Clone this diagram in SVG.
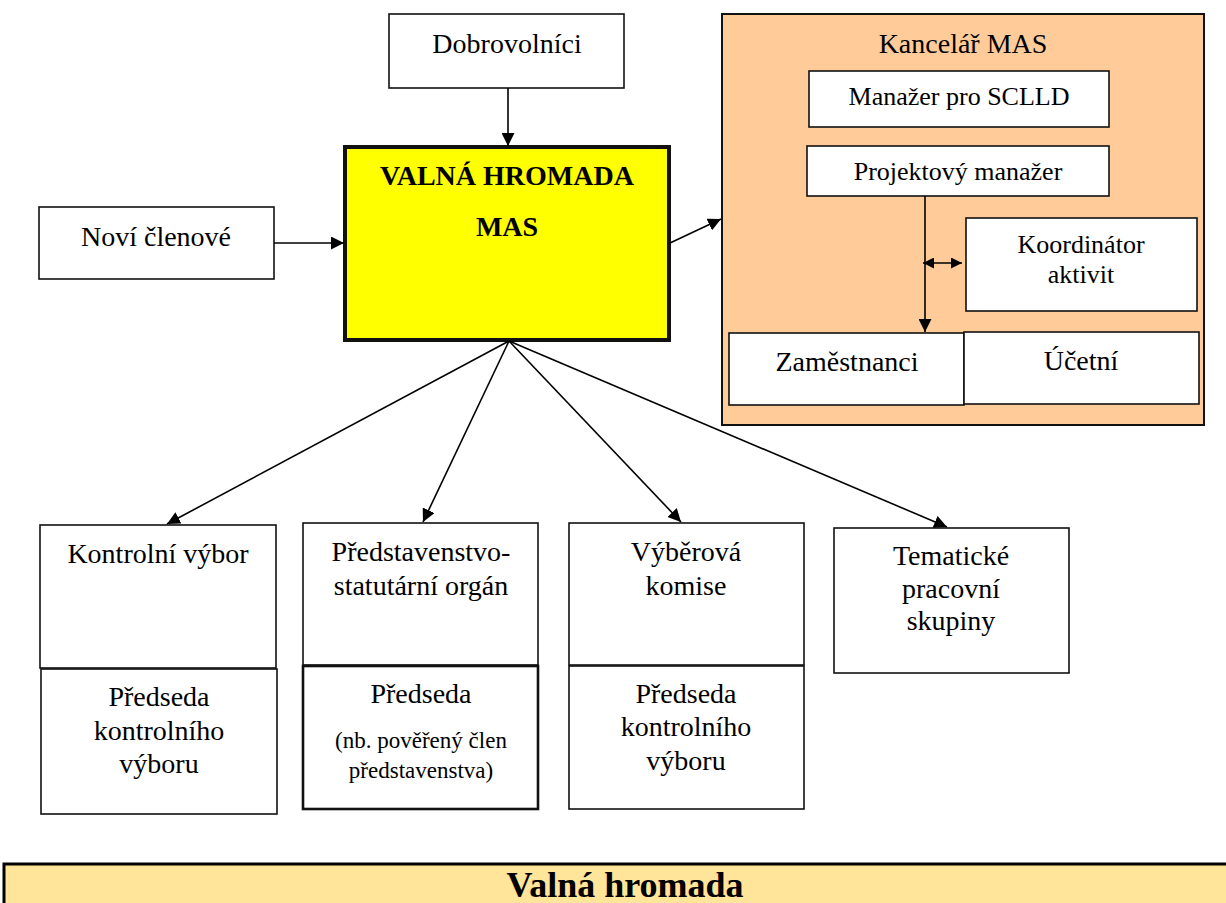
<svg xmlns="http://www.w3.org/2000/svg" width="1226" height="903" viewBox="0 0 1226 903">
<style>
  .box{fill:#fff;stroke:#111;stroke-width:1.6}
  text{font-family:'Liberation Serif',serif;font-size:28px;fill:#000;text-anchor:middle}
  .s{font-size:26px}
  .xs{font-size:23px}
  .b{font-weight:bold}
  .ln{stroke:#000;stroke-width:1.6;fill:none}
</style>
<defs>
  <marker id="ahL" viewBox="0 0 10 10" refX="10" refY="5" markerWidth="13" markerHeight="13" markerUnits="userSpaceOnUse" orient="auto">
    <path d="M0,0 L10,5 L0,10 z" fill="#000"/>
  </marker>
  <marker id="ahS" viewBox="0 0 10 10" refX="10" refY="5" markerWidth="11" markerHeight="11" markerUnits="userSpaceOnUse" orient="auto-start-reverse">
    <path d="M0,0 L10,5 L0,10 z" fill="#000"/>
  </marker>
</defs>

<g id="dobrovolnici">
  <rect class="box" x="389" y="14" width="235" height="74"/>
  <text x="507" y="53">Dobrovolníci</text>
</g>
<g id="novi-clenove">
  <rect class="box" x="39" y="207" width="235" height="72"/>
  <text x="156" y="246">Noví členové</text>
</g>
<g id="valna-hromada-mas">
  <rect x="345" y="147" width="324" height="193" fill="#FFFF00" stroke="#111" stroke-width="4"/>
  <text class="b" x="507" y="185">VALNÁ HROMADA</text>
  <text class="b" x="507" y="236">MAS</text>
</g>

<g id="kancelar-mas">
  <rect x="722" y="14" width="482" height="411" fill="#FFCC99" stroke="#111" stroke-width="2"/>
  <text x="963" y="53">Kancelář MAS</text>
</g>
<g id="manazer-scclld">
  <rect class="box" x="809" y="71" width="300" height="56"/>
  <text class="s" x="959" y="105">Manažer pro SCLLD</text>
</g>
<g id="projektovy-manazer">
  <rect class="box" x="807" y="146" width="302" height="50"/>
  <text class="s" x="958" y="180">Projektový manažer</text>
</g>
<g id="koordinator">
  <rect class="box" x="966" y="218" width="231" height="93"/>
  <text class="s" x="1081" y="253">Koordinátor</text>
  <text class="s" x="1081" y="283">aktivit</text>
</g>
<g id="zamestnanci">
  <rect class="box" x="729" y="333" width="235" height="72"/>
  <text x="847" y="371">Zaměstnanci</text>
</g>
<g id="ucetni">
  <rect class="box" x="964" y="332" width="235" height="72"/>
  <text x="1081" y="370">Účetní</text>
</g>

<g id="kontrolni-vybor">
  <rect class="box" x="40" y="525" width="236" height="143"/>
  <text x="158" y="563">Kontrolní výbor</text>
</g>
<g id="predseda-kontrolniho">
  <rect class="box" x="41" y="669" width="236" height="145"/>
  <text x="159" y="706">Předseda</text>
  <text x="159" y="740">kontrolního</text>
  <text x="159" y="773">výboru</text>
</g>
<g id="predstavenstvo">
  <rect class="box" x="303" y="523" width="235" height="142"/>
  <text x="421" y="561">Představenstvo-</text>
  <text x="421" y="595">statutární orgán</text>
</g>
<g id="predseda-predstavenstva">
  <rect x="303" y="666" width="235" height="143" fill="#fff" stroke="#111" stroke-width="2.6"/>
  <text x="421" y="703">Předseda</text>
  <text class="xs" x="421" y="748">(nb. pověřený člen</text>
  <text class="xs" x="421" y="778">představenstva)</text>
</g>
<g id="vyberova-komise">
  <rect class="box" x="569" y="523" width="235" height="142"/>
  <text x="686" y="561">Výběrová</text>
  <text x="686" y="595">komise</text>
</g>
<g id="predseda-vyberove">
  <rect class="box" x="569" y="666" width="235" height="143"/>
  <text x="686" y="703">Předseda</text>
  <text x="686" y="736">kontrolního</text>
  <text x="686" y="770">výboru</text>
</g>
<g id="tematicke-skupiny">
  <rect class="box" x="834" y="528" width="235" height="145"/>
  <text x="951" y="565">Tematické</text>
  <text x="951" y="598">pracovní</text>
  <text x="951" y="630">skupiny</text>
</g>

<g id="banner">
  <rect x="4" y="864" width="1230" height="50" fill="#FFE599" stroke="#000" stroke-width="3"/>
  <text class="b" x="625" y="897" style="font-size:36px">Valná hromada</text>
</g>

<g id="connectors">
  <line class="ln" x1="508" y1="88" x2="508" y2="146" marker-end="url(#ahL)"/>
  <line class="ln" x1="274" y1="243" x2="344" y2="243" marker-end="url(#ahL)"/>
  <line class="ln" x1="670" y1="243" x2="721" y2="219" marker-end="url(#ahL)"/>
  <line class="ln" x1="925" y1="196" x2="925" y2="332" marker-end="url(#ahL)"/>
  <line class="ln" x1="923" y1="263" x2="962" y2="263" marker-start="url(#ahS)" marker-end="url(#ahS)"/>
  <line class="ln" x1="509" y1="341" x2="167" y2="524" marker-end="url(#ahL)"/>
  <line class="ln" x1="509" y1="341" x2="423" y2="522" marker-end="url(#ahL)"/>
  <line class="ln" x1="509" y1="341" x2="681" y2="522" marker-end="url(#ahL)"/>
  <line class="ln" x1="509" y1="341" x2="947" y2="527" marker-end="url(#ahL)"/>
</g>
</svg>
